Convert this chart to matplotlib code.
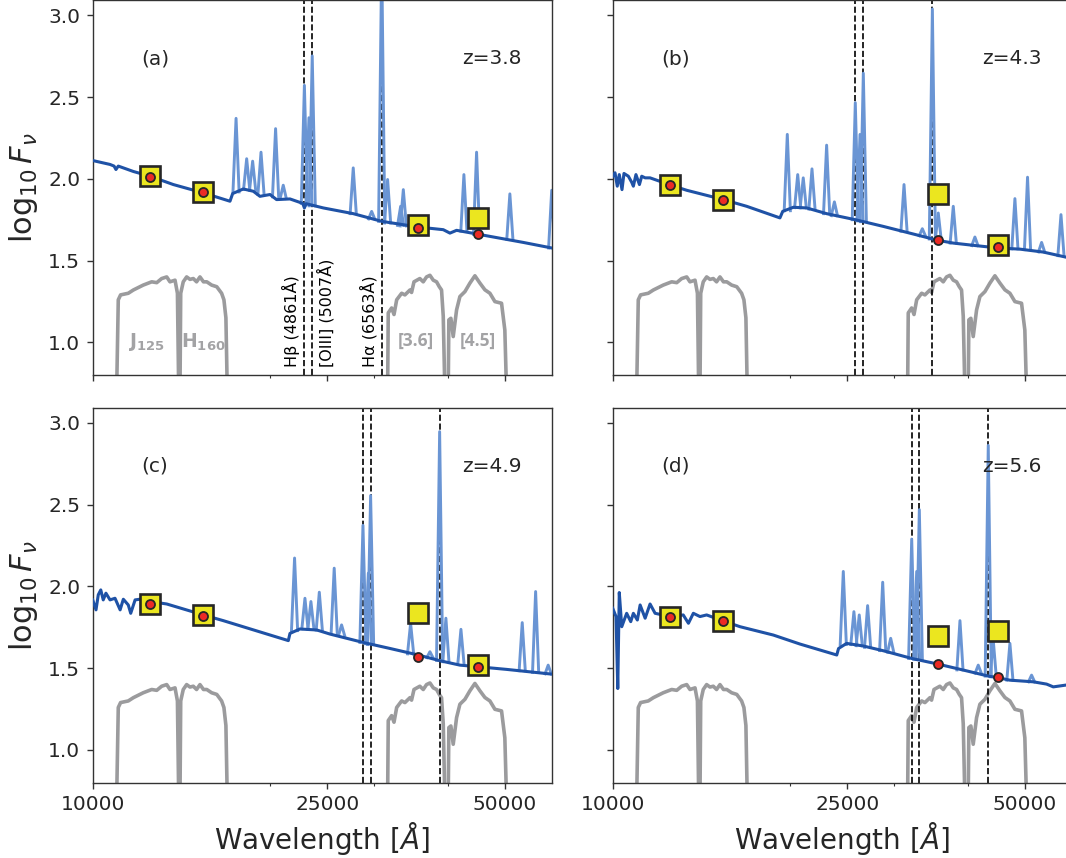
import numpy as np
import matplotlib.pyplot as plt
from matplotlib.ticker import FixedLocator, FixedFormatter, NullFormatter

plt.rcParams['font.family'] = 'DejaVu Sans'
plt.rcParams['mathtext.fontset'] = 'dejavusans'

# effective wavelengths of J125, H160, [3.6], [4.5]
band_wave = [12510, 15400, 35600, 45040]

# filter transmission curves, drawn in the same y units
j_wave = [10980, 11050, 11150, 11490, 11720, 12180, 12590, 12840, 13090, 13350, 13520, 13790, 13920, 13990]
j_flux = [0.70, 1.26, 1.29, 1.30, 1.32, 1.35, 1.37, 1.365, 1.39, 1.40, 1.37, 1.38, 1.30, 0.70]
h_wave = [14060, 14100, 14240, 14430, 14620, 14810, 15000, 15200, 15410, 15610, 15910, 16230, 16540, 16690, 16820, 16910]
h_flux = [0.70, 1.30, 1.37, 1.40, 1.385, 1.39, 1.37, 1.40, 1.37, 1.37, 1.35, 1.34, 1.30, 1.26, 1.15, 0.70]
ch1_wave = [31620, 31700, 32120, 32420, 32760, 33400, 33830, 34500, 34720, 35050, 35860, 36340, 36810, 37300,
            37790, 38280, 38690, 39030, 39290, 39540]
ch1_flux = [0.70, 1.18, 1.21, 1.17, 1.26, 1.30, 1.29, 1.32, 1.305, 1.37, 1.39, 1.37, 1.40, 1.41,
            1.38, 1.37, 1.34, 1.32, 1.16, 0.70]
ch2_wave = [40060, 40160, 40480, 40850, 41390, 41930, 42760, 43600, 44460, 45340, 46230, 47140, 48070, 49330, 49970, 50300]
ch2_flux = [0.70, 1.137, 1.147, 1.035, 1.198, 1.28, 1.31, 1.362, 1.407, 1.362, 1.321, 1.30, 1.249, 1.239, 1.075, 0.70]

# ---- panel (a) z=3.8
z_a = '3.8'
cont_wave_a = [10000, 10700, 10870, 10950, 11050, 11720, 12510, 13700, 15400, 17090, 17270, 18000, 18720, 19210,
               19980, 20500, 21600, 22700, 22850, 23000, 24600, 27650, 30900, 35640, 39290, 40330, 41390, 47140,
               53700, 60000]
cont_flux_a = [2.112, 2.088, 2.078, 2.057, 2.078, 2.045, 2.016, 1.965, 1.914, 1.863, 1.910, 1.938, 1.924, 1.893,
               1.904, 1.873, 1.877, 1.850, 1.822, 1.848, 1.822, 1.787, 1.740, 1.705, 1.689, 1.668, 1.685, 1.648,
               1.611, 1.577]
line_wave_a = [17500, 18240, 18670, 19290, 20420, 21040, 22850, 23260, 23560, 27650, 29710, 30900, 31620, 33270,
               33620, 42590, 44750, 50960, 60000]
line_base_a = [1.92, 1.935, 1.93, 1.905, 1.89, 1.88, 1.85, 1.84, 1.835, 1.787, 1.755, 1.74, 1.73, 1.715,
               1.712, 1.68, 1.66, 1.63, 1.577]
line_peak_a = [2.370, 2.123, 2.108, 2.163, 2.307, 1.961, 2.572, 2.374, 2.752, 2.067, 1.801, 3.35, 1.996, 1.832,
               1.934, 2.026, 2.163, 1.908, 1.93]
dash_wave_a = [22850, 23560, 30900]
sq_a = [2.016, 1.918, 1.720, 1.760]
dot_a = [2.012, 1.918, 1.700, 1.664]

# ---- panel (b) z=4.3
z_b = '4.3'
cont_wave_b = [10000, 10090, 10180, 10260, 10370, 10450, 10630, 10770, 10840, 10950, 11100, 11200, 11350, 11570,
               12510, 13350, 15400, 16870, 19210, 19420, 20240, 21320, 23050, 25780, 28760, 33190, 35550, 37790,
               41390, 45040, 49010, 53700, 58660, 60000]
cont_flux_b = [2.016, 2.037, 1.955, 2.026, 1.934, 2.033, 2.016, 1.979, 1.955, 2.026, 1.965, 2.016, 2.006, 2.006,
               1.963, 1.930, 1.873, 1.832, 1.761, 1.801, 1.826, 1.822, 1.787, 1.750, 1.709, 1.652, 1.624, 1.607,
               1.591, 1.577, 1.570, 1.552, 1.521, 1.515]
line_wave_b = [19770, 20590, 21040, 21770, 23050, 23760, 25780, 26260, 26600, 31180, 33490, 34830, 35640, 37790,
               41120, 48070, 50500, 53350, 57540]
line_base_b = [1.805, 1.824, 1.823, 1.815, 1.787, 1.775, 1.750, 1.743, 1.738, 1.680, 1.652, 1.632, 1.622, 1.607,
               1.592, 1.572, 1.567, 1.553, 1.530]
line_peak_b = [2.272, 2.026, 2.006, 2.061, 2.206, 1.859, 2.466, 2.272, 2.646, 1.965, 1.695, 3.039, 1.791, 1.832,
               1.644, 1.879, 2.010, 1.611, 1.781]
dash_wave_b = [25780, 26600, 34830]
sq_b = [1.961, 1.873, 1.908, 1.597]
dot_b = [1.961, 1.869, 1.628, 1.580]

# ---- panel (c) z=4.9
z_c = '4.9'
cont_wave_c = [10000, 10130, 10220, 10320, 10420, 10530, 10700, 10910, 11130, 11270, 11490, 11600, 11800, 12020,
               12510, 13350, 15400, 16650, 21460, 21600, 22450, 23980, 25250, 28720, 31910, 35640, 38780, 41940,
               45040, 50300, 55110, 60000]
cont_flux_c = [1.918, 1.857, 1.949, 1.979, 1.918, 1.959, 1.918, 1.928, 1.857, 1.922, 1.887, 1.836, 1.918, 1.922,
               1.908, 1.893, 1.826, 1.791, 1.669, 1.713, 1.740, 1.734, 1.709, 1.658, 1.621, 1.581, 1.546, 1.519,
               1.509, 1.493, 1.478, 1.464]
line_wave_c = [21990, 22900, 23440, 24220, 25670, 26420, 28720, 29330, 29590, 34590, 37300, 38740, 39700, 42100,
               53480, 56350, 59180]
line_base_c = [1.73, 1.742, 1.738, 1.733, 1.712, 1.70, 1.658, 1.650, 1.645, 1.588, 1.565, 1.548, 1.54, 1.53,
               1.485, 1.475, 1.466]
line_peak_c = [2.174, 1.928, 1.908, 1.965, 2.112, 1.765, 2.374, 2.082, 2.556, 1.775, 1.601, 2.947, 1.806, 1.738,
               1.779, 1.969, 1.519]
dash_wave_c = [28720, 29590, 38740]
sq_c = [1.893, 1.826, 1.836, 1.519]
dot_c = [1.893, 1.822, 1.570, 1.505]

# ---- panel (d) z=5.6
z_d = '5.6'
cont_wave_d = [10000, 10130, 10200, 10260, 10360, 10560, 10730, 10840, 11010, 11130, 11350, 11570, 11800, 12510,
               13170, 13440, 13700, 14060, 14430, 15400, 16440, 18720, 20770, 23980, 24150, 24920, 26600, 28760,
               32130, 35640, 39810, 43320, 45040, 47140, 51640, 54400, 55840, 58660, 60000]
cont_flux_d = [1.867, 1.816, 1.376, 1.963, 1.754, 1.836, 1.785, 1.836, 1.795, 1.887, 1.806, 1.893, 1.836, 1.816,
               1.826, 1.775, 1.836, 1.816, 1.826, 1.789, 1.754, 1.703, 1.648, 1.581, 1.621, 1.652, 1.636, 1.607,
               1.560, 1.525, 1.484, 1.452, 1.442, 1.427, 1.417, 1.403, 1.386, 1.397, 1.395]
line_wave_d = [24600, 25640, 26180, 27050, 28690, 29600, 32130, 32760, 33100, 38790, 41660, 43320, 44170, 47140, 51300]
line_base_d = [1.645, 1.645, 1.638, 1.628, 1.608, 1.598, 1.560, 1.555, 1.553, 1.49, 1.47, 1.452, 1.448, 1.427, 1.417]
line_peak_d = [2.092, 1.846, 1.826, 1.883, 2.026, 1.683, 2.290, 2.092, 2.470, 1.791, 1.519, 2.863, 1.673, 1.652, 1.458]
dash_wave_d = [32130, 33100, 43320]
sq_d = [1.816, 1.789, 1.697, 1.730]
dot_d = [1.816, 1.789, 1.525, 1.444]

dark_blue = '#1f52a6'
light_blue = '#6a95d4'
filt_grey = '#9b9b9d'
label_grey = '#a3a3a5'
ink = '#262626'

W, H = 1066, 858
fig = plt.figure(figsize=(W / 100, H / 100), dpi=100)


def box(x0, y0, x1, y1):
    # pixel box measured from the top-left corner -> figure fraction
    return [x0 / W, 1 - y1 / H, (x1 - x0) / W, (y1 - y0) / H]


ax_a = fig.add_axes(box(92.7, 0.0, 551.7, 375))
ax_a.set_xscale('log')
ax_b = fig.add_axes(box(612.7, 0.0, 1071.7, 375), sharex=ax_a, sharey=ax_a)
ax_c = fig.add_axes(box(92.7, 407.6, 551.7, 782.7), sharex=ax_a, sharey=ax_a)
ax_d = fig.add_axes(box(612.7, 407.6, 1071.7, 782.7), sharex=ax_a, sharey=ax_a)

panels = [
    (ax_a, '(a)', z_a, cont_wave_a, cont_flux_a, line_wave_a, line_base_a, line_peak_a, dash_wave_a, sq_a, dot_a),
    (ax_b, '(b)', z_b, cont_wave_b, cont_flux_b, line_wave_b, line_base_b, line_peak_b, dash_wave_b, sq_b, dot_b),
    (ax_c, '(c)', z_c, cont_wave_c, cont_flux_c, line_wave_c, line_base_c, line_peak_c, dash_wave_c, sq_c, dot_c),
    (ax_d, '(d)', z_d, cont_wave_d, cont_flux_d, line_wave_d, line_base_d, line_peak_d, dash_wave_d, sq_d, dot_d),
]

hw = 0.012  # half width of an emission line at its base (fraction of wavelength)

for ax, tag, z, cw, cf, lw_, lb, lp, dw, sq, dot in panels:
    for fw, ff in [(j_wave, j_flux), (h_wave, h_flux), (ch1_wave, ch1_flux), (ch2_wave, ch2_flux)]:
        ax.plot(fw, ff, color=filt_grey, lw=2.6, zorder=1)

    for w in dw:
        ax.axvline(w, color='k', ls='--', lw=1.2, zorder=1.5)

    for w, b, p in zip(lw_, lb, lp):
        ax.plot([w * (1 - hw), w, w * (1 + hw)], [b, p, b], color=light_blue, lw=2.1, zorder=2)

    ax.plot(cw, cf, color=dark_blue, lw=2.2, zorder=3)

    ax.plot(band_wave, sq, ls='none', marker='s', ms=15, mfc='#ebe61f', mec=ink, mew=1.9, zorder=5)
    ax.plot(band_wave, dot, ls='none', marker='o', ms=6.5, mfc='#ec2b25', mec=ink, mew=1.3, zorder=6)

    ax.text(0.136, 0.843, tag, transform=ax.transAxes, ha='center', va='center', fontsize=14.5, color=ink)
    ax.text(0.869, 0.843, 'z=' + z, transform=ax.transAxes, ha='center', va='center', fontsize=14.5, color=ink)

    for s in ax.spines.values():
        s.set_color('#333333')
        s.set_linewidth(1.0)
    ax.tick_params(which='both', direction='out', color='#333333', labelcolor=ink, labelsize=14.5)
    ax.tick_params(which='major', length=4, width=1.0, pad=5)
    ax.tick_params(which='minor', length=2.5, width=0.8)

ax_a.set_xlim(10000, 60000)
ax_a.set_ylim(0.8, 3.094)
ax_a.xaxis.set_major_locator(FixedLocator([10000, 25000, 50000]))
ax_a.xaxis.set_major_formatter(FixedFormatter(['10000', '25000', '50000']))
ax_a.xaxis.set_minor_locator(FixedLocator([20000, 30000, 40000]))
ax_a.xaxis.set_minor_formatter(NullFormatter())
ax_a.set_yticks([1.0, 1.5, 2.0, 2.5, 3.0])

for ax in (ax_a, ax_b):
    ax.tick_params(labelbottom=False)
for ax in (ax_b, ax_d):
    ax.tick_params(labelleft=False)

for ax in (ax_a, ax_c):
    ax.set_ylabel(r'$\log_{10}F_{\nu}$', fontsize=22, color=ink, labelpad=6)
for ax in (ax_c, ax_d):
    ax.set_xlabel(r'Wavelength [$\mathit{Å}$]', fontsize=20, color=ink, labelpad=4)

# line markers and filter names in panel (a)
ax_a.text(21680, 0.85, 'Hβ (4861Å)', rotation=90, ha='center', va='bottom', fontsize=11.5, color='k')
ax_a.text(24860, 0.85, '[OIII] (5007Å)', rotation=90, ha='center', va='bottom', fontsize=11.5, color='k')
ax_a.text(29430, 0.85, 'Hα (6563Å)', rotation=90, ha='center', va='bottom', fontsize=11.5, color='k')

ax_a.text(12310, 1.00, r'$\mathbf{J_{125}}$', ha='center', va='center', fontsize=13.5, color=label_grey)
ax_a.text(15400, 1.00, r'$\mathbf{H_{160}}$', ha='center', va='center', fontsize=13.5, color=label_grey)
ax_a.text(35300, 1.01, '[3.6]', ha='center', va='center', fontsize=12.5, fontweight='bold',
          family=['Liberation Sans Narrow', 'Open Sans'], color=label_grey)
ax_a.text(45040, 1.01, '[4.5]', ha='center', va='center', fontsize=12.5, fontweight='bold',
          family=['Liberation Sans Narrow', 'Open Sans'], color=label_grey)

fig.savefig('out.png', dpi=100)
